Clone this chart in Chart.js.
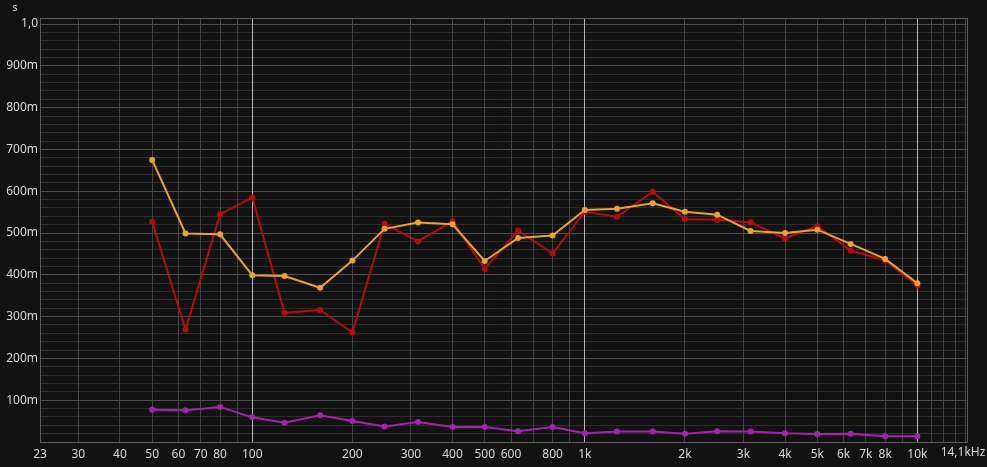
<!DOCTYPE html>
<html>
<head>
<meta charset="utf-8">
<script src="https://cdn.jsdelivr.net/npm/chart.js@4"></script>
<style>
  html, body { margin: 0; padding: 0; background: #121212; }
  #wrap { width: 987px; height: 467px; }
</style>
</head>
<body>
<div id="wrap"><canvas id="rt"></canvas></div>
<script>
// third-octave bands (Hz)
const freqs = [50, 63, 80, 100, 125, 160, 200, 250, 315, 400, 500, 630, 800,
  1000, 1250, 1600, 2000, 2500, 3150, 4000, 5000, 6300, 8000, 10000];

// reverberation time, seconds
const rtRed = [0.527, 0.269, 0.545, 0.585, 0.309, 0.316, 0.262, 0.522, 0.480, 0.528, 0.414,
  0.506, 0.451, 0.551, 0.539, 0.599, 0.533, 0.532, 0.526, 0.487, 0.517, 0.458, 0.435, 0.374];
const rtOrange = [0.675, 0.499, 0.497, 0.399, 0.397, 0.369, 0.434, 0.510, 0.525, 0.521, 0.433,
  0.488, 0.494, 0.555, 0.558, 0.571, 0.551, 0.544, 0.505, 0.500, 0.508, 0.474, 0.438, 0.380];
const rtMagenta = [0.077, 0.076, 0.084, 0.059, 0.046, 0.064, 0.050, 0.037, 0.048, 0.036, 0.036,
  0.026, 0.036, 0.021, 0.025, 0.025, 0.020, 0.026, 0.025, 0.021, 0.019, 0.020, 0.014, 0.014];

// axis ticks
const xGrid = [23, 30, 40, 50, 60, 70, 80, 90, 100, 200, 300, 400, 500, 600, 700, 800, 900,
  1000, 2000, 3000, 4000, 5000, 6000, 7000, 8000, 9000, 10000, 11000, 12000, 13000, 14000, 14100];
const xLabels = { 23: '23', 30: '30', 40: '40', 50: '50', 60: '60', 70: '70', 80: '80', 100: '100',
  200: '200', 300: '300', 400: '400', 500: '500', 600: '600', 800: '800', 1000: '1k', 2000: '2k',
  3000: '3k', 4000: '4k', 5000: '5k', 6000: '6k', 7000: '7k', 8000: '8k', 10000: '10k' };
const xEndLabel = '14,1kHz';
const yLabels = ['100m', '200m', '300m', '400m', '500m', '600m', '700m', '800m', '900m', '1,0'];

const toPoints = arr => arr.map((v, i) => ({ x: freqs[i], y: v }));

const frame = {
  id: 'frame',
  beforeDatasetsDraw(chart) {
    const { ctx, chartArea: a } = chart;
    ctx.save();
    ctx.strokeStyle = '#5a5a5a';
    ctx.lineWidth = 1;
    ctx.strokeRect(a.left + 0.5, a.top + 0.5, a.right - a.left, a.bottom - a.top);
    ctx.restore();
  },
  afterDraw(chart) {
    const ctx = chart.ctx;
    const a = chart.chartArea;
    ctx.save();
    ctx.fillStyle = '#d8d8d8';
    ctx.font = '11px "Noto Sans"';
    ctx.textAlign = 'center';
    ctx.textBaseline = 'middle';
    ctx.fillText('s', 15, 8);
    // last x label sits a bit inside the right edge so it is not cut off
    ctx.font = '12px "Noto Sans"';
    ctx.textBaseline = 'top';
    ctx.fillText(xEndLabel, a.right - 4, a.bottom + 5);
    ctx.restore();
  }
};

const series = (data, color) => ({
  data: toPoints(data),
  borderColor: color,
  backgroundColor: color,
  borderWidth: 2,
  pointRadius: 3,
  pointBorderWidth: 0,
  tension: 0
});

new Chart(document.getElementById('rt'), {
  type: 'line',
  data: {
    datasets: [
      series(rtOrange, '#e9a233'),
      series(rtRed, '#b30e0e'),
      series(rtMagenta, '#a524ae')
    ]
  },
  options: {
    responsive: true,
    maintainAspectRatio: false,
    animation: false,
    layout: { padding: { top: 18, right: 20, left: 0, bottom: 0 } },
    plugins: { legend: { display: false }, tooltip: { enabled: false } },
    scales: {
      x: {
        type: 'logarithmic',
        min: 23,
        max: 14100,
        afterBuildTicks: s => { s.ticks = xGrid.map(v => ({ value: v })); },
        afterFit: s => { s.height = 25; s.paddingLeft = 0; s.paddingRight = 0; },
        border: { display: false },
        grid: {
          z: -1,
          drawTicks: false,
          color: c => [100, 1000, 10000].includes(c.tick && c.tick.value) ? '#b4b4b4' : '#444444'
        },
        ticks: {
          autoSkip: false,
          maxRotation: 0,
          padding: 5,
          color: '#d8d8d8',
          font: { family: 'Noto Sans', size: 12 },
          callback: v => xLabels[v] || ''
        }
      },
      y: {
        min: 0,
        max: 1.0145,
        afterBuildTicks: s => {
          const t = [];
          for (let i = 0; i <= 50; i++) t.push({ value: i / 50 });
          s.ticks = t;
        },
        afterFit: s => { s.width = 40; s.paddingTop = 0; s.paddingBottom = 0; },
        border: { display: false },
        grid: {
          z: -2,
          drawTicks: false,
          color: c => {
            const k = Math.round(c.tick.value * 50);
            return k % 5 === 0 ? '#4e4e4e' : '#2c2c2c';
          }
        },
        ticks: {
          autoSkip: false,
          padding: 2,
          color: '#d8d8d8',
          font: { family: 'Noto Sans', size: 12 },
          callback: v => {
            const k = Math.round(v * 50);
            return (k % 5 === 0 && k > 0) ? yLabels[k / 5 - 1] : '';
          }
        }
      }
    }
  },
  plugins: [frame]
});
</script>
</body>
</html>
